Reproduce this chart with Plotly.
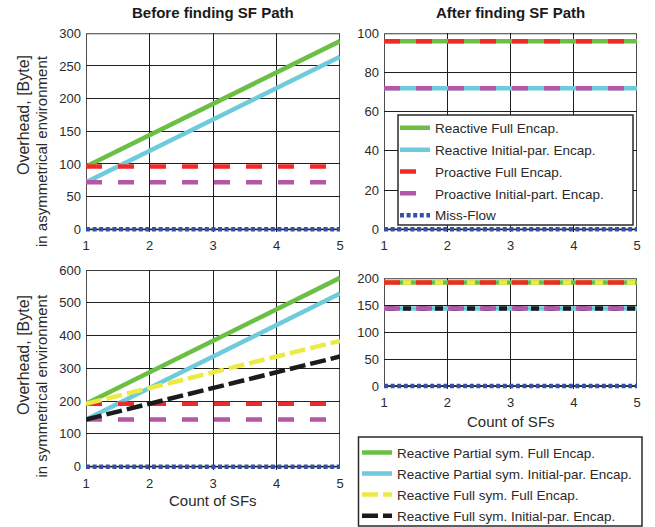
import plotly.graph_objects as go

# ---- data -------------------------------------------------------------
sf_count = [1, 2, 3, 4, 5]

# asymmetrical environment, before the SF path is known
asym_reactive_full_before = [96, 144, 192, 240, 288]
asym_reactive_init_before = [72, 120, 168, 216, 264]
asym_proactive_full = [96, 96, 96, 96, 96]
asym_proactive_init = [72, 72, 72, 72, 72]
miss_flow = [0, 0, 0, 0, 0]

# asymmetrical environment, after the SF path is known
asym_reactive_full_after = [96, 96, 96, 96, 96]
asym_reactive_init_after = [72, 72, 72, 72, 72]

# symmetrical environment, before the SF path is known
sym_partial_full_before = [192, 288, 384, 480, 576]
sym_partial_init_before = [144, 240, 336, 432, 528]
sym_full_full_before = [192, 240, 288, 336, 384]
sym_full_init_before = [144, 192, 240, 288, 336]
sym_proactive_full = [192, 192, 192, 192, 192]
sym_proactive_init = [144, 144, 144, 144, 144]

# symmetrical environment, after the SF path is known
sym_partial_full_after = [192, 192, 192, 192, 192]
sym_partial_init_after = [144, 144, 144, 144, 144]
sym_full_full_after = [192, 192, 192, 192, 192]
sym_full_init_after = [144, 144, 144, 144, 144]

x_ticks = [1, 2, 3, 4, 5]

# ---- styling ----------------------------------------------------------
W, H = 655, 527
FONT = "Liberation Sans, Arial, Helvetica, sans-serif"
TXT = "#2a2a2a"

GREEN = "#6cbf45"
CYAN = "#6dcbdc"
RED = "#ee2b2b"
MAGENTA = "#b556a8"
BLUE = "#3550a5"
YELLOW = "#ecea45"
BLACK = "#1b1b1b"

LW = 4.5
DASH = "16px,16px"
SHORT_DASH = "16px,5px"
OFFSET_DASH = "0px,3px,8px,5px"
DOT = "4px,2.6px"


def px_x(p):
    return p / W


def px_y(p):
    return 1 - p / H


# panel frames in pixels: (left, right, top, zero-line)
panels = {
    1: dict(l=86, r=340, t=33.3, b=229.3, top=300, dtick=50),
    2: dict(l=384, r=637, t=33.3, b=229.3, top=100, dtick=20),
    3: dict(l=86, r=340, t=270, b=466.7, top=600, dtick=100),
    4: dict(l=384, r=637, t=278.3, b=386, top=200, dtick=50),
}
PAD = 3  # px of room below zero so the zero-level line is not clipped

fig = go.Figure()


def add_line(i, y, color, dash="solid", name=None, legend=None, group=None):
    sfx = "" if i == 1 else str(i)
    fig.add_trace(go.Scatter(
        x=sf_count, y=y, mode="lines", name=name,
        line=dict(color=color, width=LW, dash=dash),
        xaxis="x" + sfx, yaxis="y" + sfx,
        showlegend=legend is not None,
        legend=legend if legend else "legend",
        legendgroup=group,
        hoverinfo="skip",
    ))


# top-left: asymmetrical, before
add_line(1, asym_reactive_full_before, GREEN, name="Reactive Full Encap.", legend="legend", group="a1")
add_line(1, asym_reactive_init_before, CYAN, name="Reactive Initial-par. Encap.", legend="legend", group="a2")
add_line(1, asym_proactive_full, RED, DASH, name="Proactive Full Encap.", legend="legend", group="a3")
add_line(1, asym_proactive_init, MAGENTA, DASH, name="Proactive Initial-part. Encap.", legend="legend", group="a4")
add_line(1, miss_flow, BLUE, DOT, name="Miss-Flow", legend="legend", group="a5")

# top-right: asymmetrical, after
add_line(2, asym_reactive_full_after, GREEN)
add_line(2, asym_reactive_init_after, CYAN)
add_line(2, asym_proactive_full, RED, DASH)
add_line(2, asym_proactive_init, MAGENTA, DASH)
add_line(2, miss_flow, BLUE, DOT)

# bottom-left: symmetrical, before
add_line(3, sym_partial_full_before, GREEN, name="Reactive Partial sym. Full Encap.", legend="legend2", group="b1")
add_line(3, sym_partial_init_before, CYAN, name="Reactive Partial sym. Initial-par. Encap.", legend="legend2", group="b2")
add_line(3, sym_proactive_full, RED, DASH)
add_line(3, sym_proactive_init, MAGENTA, DASH)
add_line(3, sym_full_full_before, YELLOW, SHORT_DASH, name="Reactive Full sym. Full Encap.", legend="legend2", group="b3")
add_line(3, sym_full_init_before, BLACK, SHORT_DASH, name="Reactive Full sym. Initial-par. Encap.", legend="legend2", group="b4")
add_line(3, miss_flow, BLUE, DOT)

# bottom-right: symmetrical, after
add_line(4, sym_partial_full_after, GREEN)
add_line(4, sym_partial_init_after, CYAN)
add_line(4, sym_full_full_after, YELLOW, OFFSET_DASH)
add_line(4, sym_full_init_after, BLACK, OFFSET_DASH)
add_line(4, sym_proactive_full, RED, DASH)
add_line(4, sym_proactive_init, MAGENTA, DASH)
add_line(4, miss_flow, BLUE, DOT)

layout = dict(
    width=W, height=H,
    margin=dict(l=0, r=0, t=0, b=0, autoexpand=False),
    paper_bgcolor="white", plot_bgcolor="white",
    font=dict(family=FONT, size=13, color=TXT),
    showlegend=True,
    shapes=[], annotations=[],
)

for i, p in panels.items():
    sfx = "" if i == 1 else str(i)
    unit = (p["b"] - p["t"]) / p["top"]
    lo = -PAD / unit
    layout["xaxis" + sfx] = dict(
        domain=[px_x(p["l"]), px_x(p["r"])], anchor="y" + sfx,
        range=[1, 5], tickvals=x_ticks, ticks="",
        showgrid=True, gridcolor="#1e1e1e", gridwidth=1.3,
        zeroline=False, showline=False,
        tickfont=dict(size=13, color=TXT), ticklabelstandoff=4,
    )
    layout["yaxis" + sfx] = dict(
        domain=[px_y(p["b"] + PAD), px_y(p["t"])], anchor="x" + sfx,
        range=[lo, p["top"]], tick0=0, dtick=p["dtick"], ticks="",
        showgrid=True, gridcolor="#1e1e1e", gridwidth=1.3,
        zeroline=False, showline=False,
        tickfont=dict(size=13, color=TXT), ticklabelstandoff=4,
    )
    # panel frame
    layout["shapes"].append(dict(
        type="rect", xref="x" + sfx, yref="y" + sfx,
        x0=1, x1=5, y0=0, y1=p["top"], layer="below",
        line=dict(color="#3a3a3a", width=1.8), fillcolor="rgba(0,0,0,0)",
    ))

# legend boxes
legend_boxes = [(398, 633, 115, 225), (358.5, 642, 437, 526)]
for l, r, t, b in legend_boxes:
    layout["shapes"].append(dict(
        type="rect", xref="paper", yref="paper",
        x0=px_x(l), x1=px_x(r), y0=px_y(b), y1=px_y(t), layer="above",
        line=dict(color="#2a2a2a", width=1.5), fillcolor="white",
    ))

legend_common = dict(
    xanchor="left", yanchor="top", bgcolor="rgba(0,0,0,0)", borderwidth=0,
    font=dict(family=FONT, size=13.5, color=TXT),
    itemclick=False, itemdoubleclick=False,
)
layout["legend"] = dict(x=px_x(395), y=px_y(112.5), tracegroupgap=1.3, **legend_common)
layout["legend2"] = dict(x=px_x(357), y=px_y(437.2), tracegroupgap=0.5, **legend_common)

# titles
for text, cx in [("Before finding SF Path", 213), ("After finding SF Path", 510.5)]:
    layout["annotations"].append(dict(
        text="<b>" + text + "</b>", x=px_x(cx), y=px_y(13), xref="paper", yref="paper",
        xanchor="center", yanchor="middle", showarrow=False,
        font=dict(family=FONT, size=15, color="#1a1a1a"),
    ))

# x-axis titles
for cx, cy in [(213, 500), (510.5, 421)]:
    layout["annotations"].append(dict(
        text="Count of SFs", x=px_x(cx), y=px_y(cy), xref="paper", yref="paper",
        xanchor="center", yanchor="middle", showarrow=False,
        font=dict(family=FONT, size=15, color=TXT),
    ))

# y-axis titles (two rotated lines each)
for lines, top in [(("Overhead, [Byte]", "in asymmetrical environment"), 53),
                   (("Overhead, [Byte]", "in symmetrical environment"), 293)]:
    for text, cx, size in zip(lines, (23, 41), (16, 15)):
        layout["annotations"].append(dict(
            text=text, x=px_x(cx), y=px_y(top), xref="paper", yref="paper",
            xanchor="center", yanchor="top", showarrow=False, textangle=-90,
            font=dict(family=FONT, size=size, color=TXT),
        ))

fig.update_layout(layout)
fig.write_html("out.html")
